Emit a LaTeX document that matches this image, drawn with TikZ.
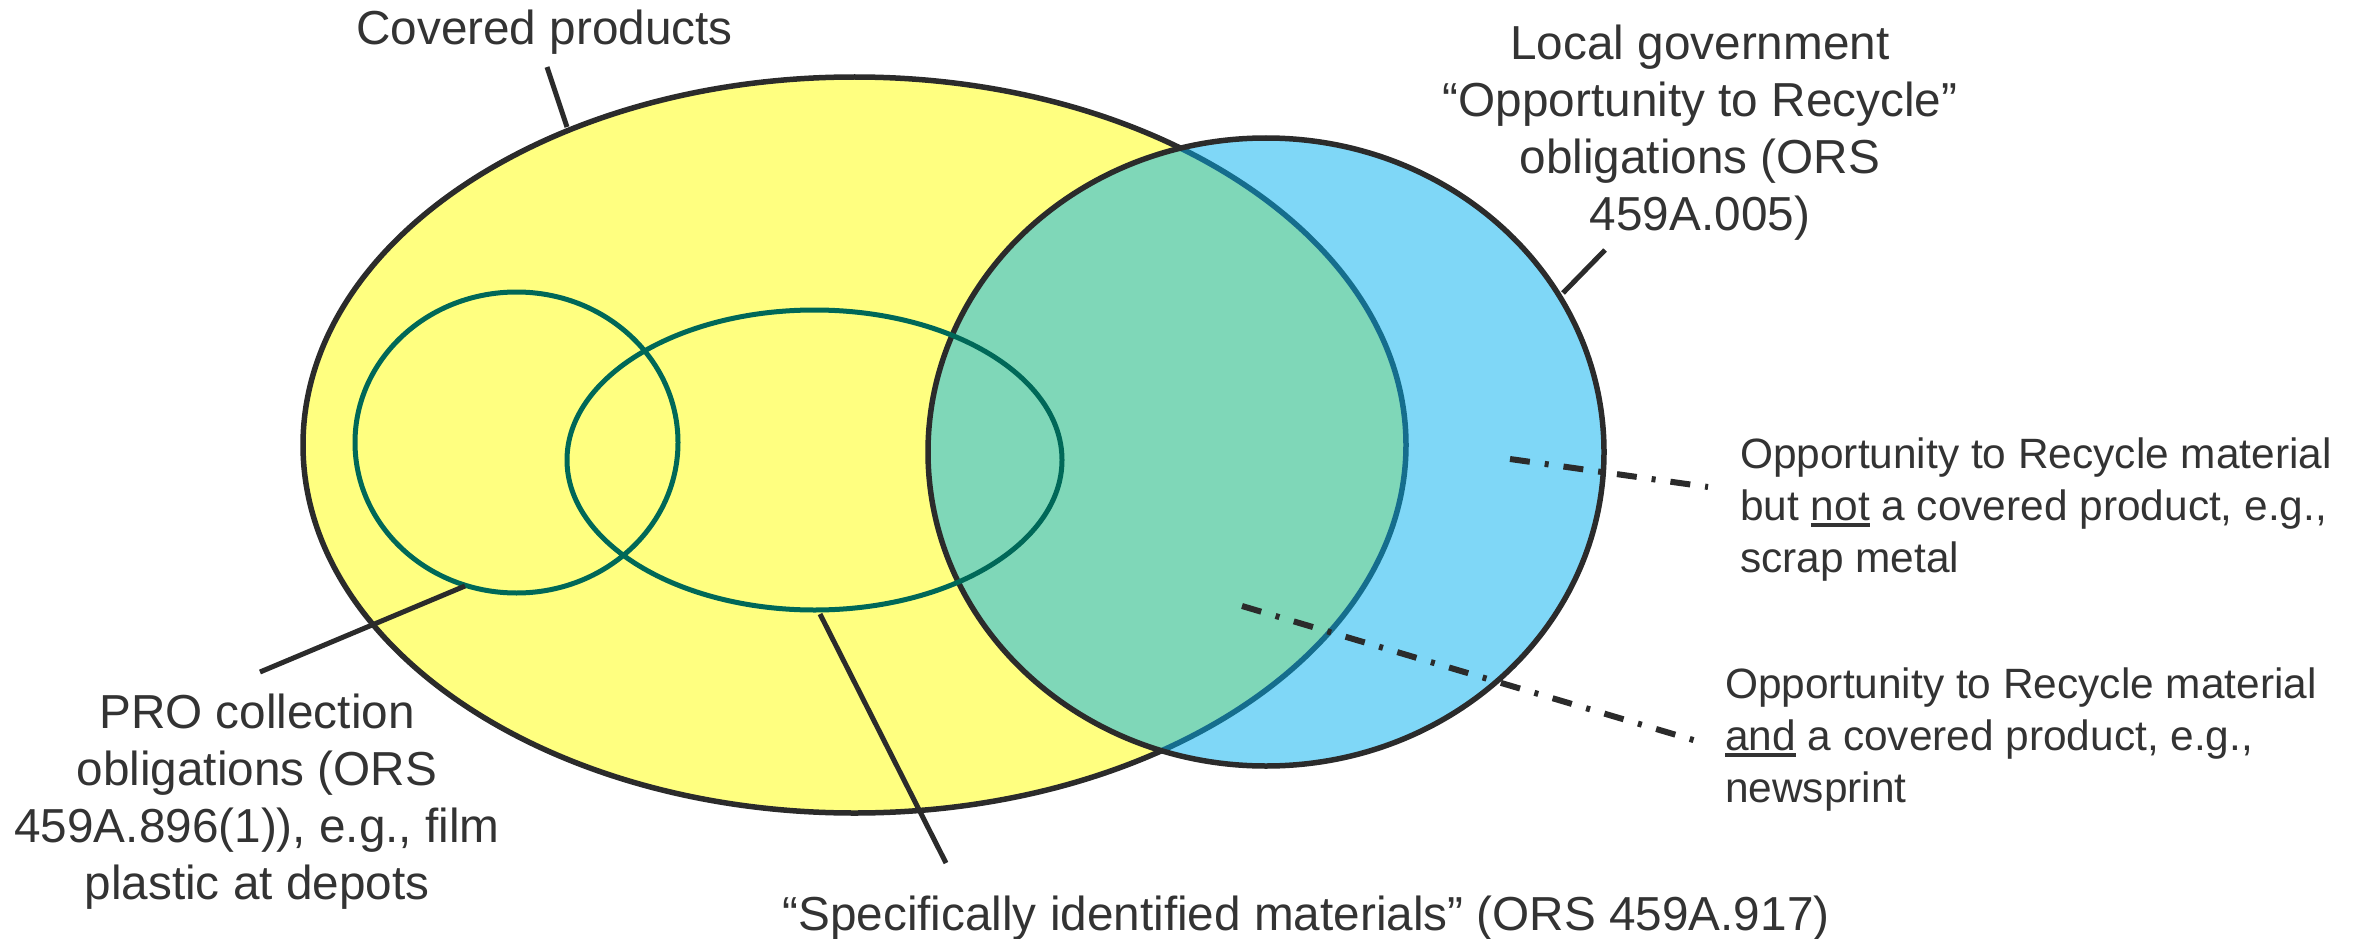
\documentclass[tikz,border=0pt]{standalone}
\usepackage{fontspec}
\setmainfont{Liberation Sans}
\definecolor{ink}{HTML}{333333}
\definecolor{rim}{HTML}{2B2B2B}
\definecolor{covered}{HTML}{FFFF80}
\definecolor{otr}{HTML}{00B0F0}
\definecolor{subrim}{HTML}{006858}
% underlined word with a rule that scales with the drawing
\newcommand\ulword[1]{\setbox0\hbox{#1}\rlap{\rule[-7pt]{\wd0}{4pt}}#1}
\begin{document}
\begin{tikzpicture}[x=1pt, y=-1pt,
  bigtext/.style={font=\fontsize{47.7}{57}\selectfont, text=ink, inner sep=0pt, align=center},
  smalltext/.style={font=\fontsize{42.4}{52}\selectfont, text=ink, inner sep=0pt, align=left},
  leader/.style={draw=rim, line width=5pt},
  dashdot/.style={draw=rim, line width=6pt, dash pattern=on 20pt off 15pt on 4pt off 15pt},
  outer/.style={draw=rim, line width=5.5pt},
  inner/.style={draw=subrim, line width=5pt}]
\useasboundingbox (0,0) rectangle (2361,939);

% covered products
\draw[outer, fill=covered] (854.5,445) ellipse (551.5 and 368);
% opportunity to recycle (semi-transparent fill)
\draw[outer, fill=otr, fill opacity=0.5] (1266,452) ellipse (338 and 314);
% PRO collection obligations and specifically identified materials
\draw[inner] (516.5,442.5) ellipse (161.5 and 150.5);
\draw[inner] (814.5,460) ellipse (247.5 and 150);

% labels (multi-line labels sit on the baseline of their last line)
\node[bigtext, anchor=base] (cp) at (544.5,45) {Covered products};
\node[bigtext, anchor=base] (lg) at (1700,230) {Local government\\“Opportunity to Recycle”\\obligations (ORS\\459A.005)};
\node[bigtext, anchor=base] (pro) at (257,899) {PRO collection\\obligations (ORS\\459A.896(1)), e.g., film\\plastic at depots};
\node[bigtext, anchor=base] (sim) at (1306,930) {“Specifically identified materials” (ORS 459A.917)};
\node[smalltext, anchor=base west] (notcp) at (1740,572) {Opportunity to Recycle material\\but \ulword{not} a covered product, e.g.,\\scrap metal};
\node[smalltext, anchor=base west] (andcp) at (1725,802) {Opportunity to Recycle material\\\ulword{and} a covered product, e.g.,\\newsprint};

% leader lines
\coordinate (cpA) at (547,67);   \coordinate (cpB) at (567,127);
\coordinate (lgA) at (1605,250); \coordinate (lgB) at (1563,293);
\coordinate (proA) at (465,586); \coordinate (proB) at (260,672);
\coordinate (simA) at (820,614); \coordinate (simB) at (946,863);
\coordinate (ncA) at (1510,459); \coordinate (ncB) at (1708,487);
\coordinate (acA) at (1242,606); \coordinate (acB) at (1700,742);
\draw[leader] (cpA) -- (cpB);
\draw[leader] (lgA) -- (lgB);
\draw[leader] (proA) -- (proB);
\draw[leader] (simA) -- (simB);
\draw[dashdot] (ncA) -- (ncB);
\draw[dashdot] (acA) -- (acB);
\end{tikzpicture}
\end{document}
